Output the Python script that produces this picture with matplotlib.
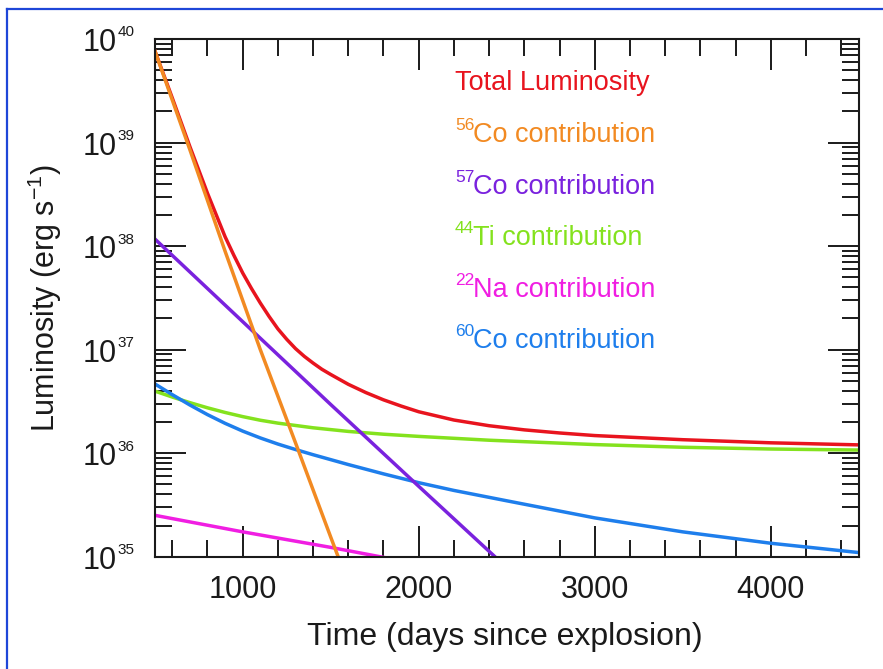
import matplotlib
matplotlib.use("Agg")
import matplotlib.pyplot as plt
import numpy as np
from matplotlib.ticker import MultipleLocator, LogLocator, NullFormatter, FixedLocator
from matplotlib.lines import Line2D
from matplotlib.transforms import blended_transform_factory, ScaledTranslation

plt.rcParams['font.family'] = ['Liberation Sans', 'DejaVu Sans']
plt.rcParams['mathtext.fontset'] = 'custom'
plt.rcParams['mathtext.rm'] = 'Liberation Sans'
plt.rcParams['mathtext.it'] = 'Liberation Sans:italic'
plt.rcParams['mathtext.bf'] = 'Liberation Sans:bold'

# Light curves: days since explosion and log10 luminosity (erg/s)
total_days = [500, 600, 700, 800, 850, 900, 950, 1000, 1050, 1100, 1150, 1200, 1250, 1300,
              1350, 1400, 1450, 1500, 1600, 1700, 1800, 1900, 2000, 2200, 2400, 2600, 2800,
              3000, 3500, 4000, 4500]
total_log = [39.89, 39.43, 38.96, 38.51, 38.30, 38.09, 37.91, 37.74, 37.59, 37.45, 37.32,
             37.20, 37.10, 37.01, 36.935, 36.87, 36.81, 36.76, 36.665, 36.585, 36.515, 36.455,
             36.40, 36.32, 36.265, 36.225, 36.195, 36.17, 36.13, 36.10, 36.08]

co56_days = [500, 700, 900, 1100, 1300, 1500, 1600]
co56_log = [39.89, 38.93, 37.95, 37.00, 36.10, 35.19, 34.74]

co57_days = [500, 1000, 1500, 2000, 2433, 2500]
co57_log = [38.07, 37.27, 36.47, 35.68, 35.00, 34.89]

ti44_days = [500, 600, 700, 800, 900, 1000, 1100, 1200, 1400, 1600, 1800, 2000, 2400, 3000,
             3500, 4000, 4500]
ti44_log = [36.60, 36.542, 36.488, 36.438, 36.393, 36.353, 36.318, 36.29, 36.245, 36.21,
            36.183, 36.162, 36.125, 36.083, 36.057, 36.04, 36.03]

na22_days = [500, 1000, 1500, 1780, 2000]
na22_log = [35.40, 35.24, 35.09, 35.00, 34.93]

co60_days = [500, 600, 700, 800, 900, 1000, 1100, 1200, 1300, 1400, 1600, 1800, 2000, 2200,
             2500, 3000, 3500, 4000, 4500]
co60_log = [36.67, 36.565, 36.465, 36.372, 36.288, 36.213, 36.147, 36.088, 36.035, 35.985,
            35.89, 35.80, 35.715, 35.64, 35.54, 35.375, 35.24, 35.13, 35.04]

decades = [35, 36, 37, 38, 39, 40]

key_main = ["Total Luminosity", "Co contribution", "Co contribution",
            "Ti contribution", "Na contribution", "Co contribution"]
key_mass = ["", "56", "57", "44", "22", "60"]
colors = ["#E8141E", "#F28A22", "#7A22DE", "#84E21E", "#F01EE2", "#1E7EEC"]

W, H = 883, 669
fig = plt.figure(figsize=(W / 100, H / 100), dpi=100)
ax_l, ax_r, ax_t, ax_b = 154.7, 858.7, 39.0, 556.7
ax = fig.add_axes([ax_l / W, 1 - ax_b / H, (ax_r - ax_l) / W, (ax_b - ax_t) / H])

series = [(total_days, total_log, colors[0]),
          (ti44_days, ti44_log, colors[3]),
          (co60_days, co60_log, colors[5]),
          (na22_days, na22_log, colors[4]),
          (co57_days, co57_log, colors[2]),
          (co56_days, co56_log, colors[1])]
for d, lg, c in series:
    ax.plot(d, 10 ** np.asarray(lg), color=c, lw=2.5, solid_joinstyle='round')

ax.set_yscale('log')
ax.set_xlim(500, 4500)
ax.set_ylim(1e35, 1e40)

ax.xaxis.set_major_locator(MultipleLocator(1000))
ax.xaxis.set_minor_locator(MultipleLocator(200))
ax.yaxis.set_major_locator(FixedLocator([10.0 ** k for k in decades]))
ax.yaxis.set_minor_locator(LogLocator(base=10, subs=np.arange(2, 10), numticks=20))
ax.yaxis.set_major_formatter(NullFormatter())
ax.yaxis.set_minor_formatter(NullFormatter())

ink = '#1a1a1a'
ax.tick_params(which='major', direction='in', length=22, width=1.4, top=True, right=True,
               labelsize=22, colors=ink)
ax.tick_params(which='minor', direction='in', length=12, width=1.4, top=True, right=True,
               colors=ink)
ax.tick_params(axis='x', which='major', pad=13)
for s in ax.spines.values():
    s.set_linewidth(1.5)
    s.set_color(ink)

# Power-of-ten labels on the y axis: "10" with a small raised exponent
ytrans = blended_transform_factory(ax.transAxes, ax.transData)
for k in decades:
    base = ytrans + ScaledTranslation(0, -12 / 100, fig.dpi_scale_trans)
    sup = ytrans + ScaledTranslation(0, 2.5 / 100, fig.dpi_scale_trans)
    ax.text((117 - ax_l) / (ax_r - ax_l), 10.0 ** k, "10", transform=base, fontsize=22,
            ha='right', va='baseline', color=ink, clip_on=False)
    ax.text((117.5 - ax_l) / (ax_r - ax_l), 10.0 ** k, str(k), transform=sup, fontsize=11,
            ha='left', va='baseline', color=ink, clip_on=False)

ax.set_xlabel("Time (days since explosion)", fontsize=23, color=ink)
ax.xaxis.set_label_coords(0.4977, (ax_b - 622) / (ax_b - ax_t))
ax.set_ylabel(r"Luminosity (erg s$^{-1}$)", fontsize=22, color=ink)
ax.yaxis.set_label_coords((64 - ax_l) / (ax_r - ax_l), 0.5)

# Coloured key in the upper right of the panel
baselines = [90, 141.7, 193.5, 245, 297, 348.5]
for main, mass, c, yb in zip(key_main, key_mass, colors, baselines):
    yf = (ax_b - yb) / (ax_b - ax_t)
    if mass:
        ax.text((455 - ax_l) / (ax_r - ax_l), (ax_b - (yb - 12)) / (ax_b - ax_t), mass,
                color=c, fontsize=12.5, transform=ax.transAxes, ha='left', va='baseline')
        ax.text((473 - ax_l) / (ax_r - ax_l), yf, main, color=c, fontsize=19.5,
                transform=ax.transAxes, ha='left', va='baseline')
    else:
        ax.text((455 - ax_l) / (ax_r - ax_l), yf, main, color=c, fontsize=19.5,
                transform=ax.transAxes, ha='left', va='baseline')

# Blue frame along the left and top edges of the figure
x0 = 7.5 / W
yt = 1 - 8.5 / H
fig.add_artist(Line2D([x0, x0], [0, yt], transform=fig.transFigure, color='#1E46D8', lw=1.6))
fig.add_artist(Line2D([x0, 1], [yt, yt], transform=fig.transFigure, color='#1E46D8', lw=1.6))

fig.savefig("out.png", dpi=100)
